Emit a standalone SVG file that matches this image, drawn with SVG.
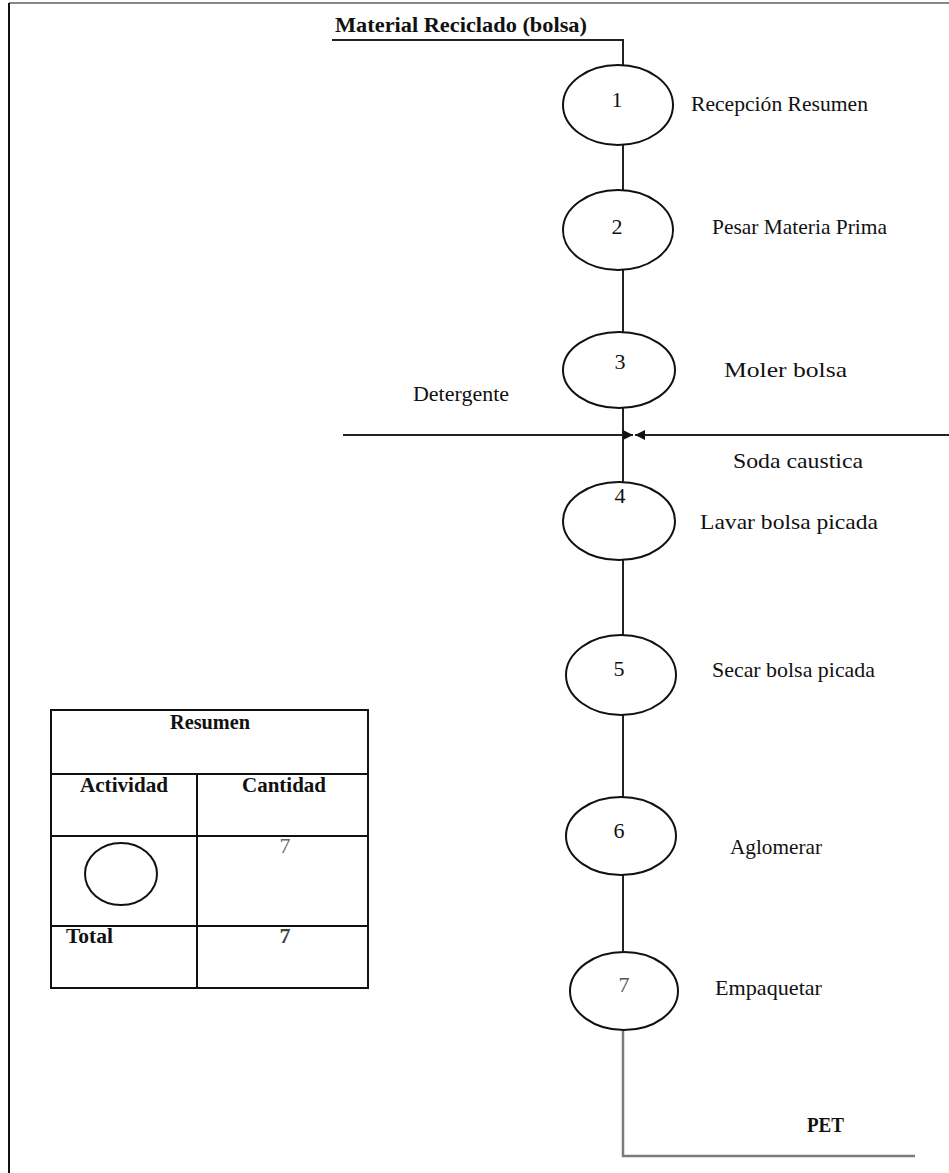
<svg xmlns="http://www.w3.org/2000/svg" width="949" height="1173" viewBox="0 0 949 1173">
<style>
text{font-family:"Liberation Serif","Times New Roman",serif;font-size:22px;fill:#111}
.b{font-weight:bold}
.num{text-anchor:middle;font-size:22px}
.op{fill:#fff;stroke:#111;stroke-width:2}
.ln{stroke:#222;stroke-width:2;fill:none}
.cell{fill:none;stroke:#111;stroke-width:2}
</style>
<defs>
<marker id="arr" viewBox="0 0 10 10" refX="10" refY="5" markerWidth="11" markerHeight="10" markerUnits="userSpaceOnUse" orient="auto">
<path d="M0,0 L10,5 L0,10 Z" fill="#111"/>
</marker>
</defs>
<rect width="949" height="1173" fill="#fff"/>
<g id="frame">
<line x1="9" y1="3" x2="949" y2="3" stroke="#888" stroke-width="2"/>
<line x1="9" y1="3" x2="9" y2="1173" stroke="#111" stroke-width="2"/>
</g>
<g id="connectors">
<polyline class="ln" points="332,40 623,40 623,1040"/>
<polyline points="623,1030 623,1156 915,1156" fill="none" stroke="#7a7a7a" stroke-width="2.5"/>
<line class="ln" x1="343" y1="435" x2="633" y2="435" marker-end="url(#arr)"/>
<line class="ln" x1="949" y1="435" x2="635" y2="435" marker-end="url(#arr)"/>
</g>
<g id="input-label"><text class="b" x="335" y="32" textLength="252" lengthAdjust="spacingAndGlyphs">Material Reciclado (bolsa)</text></g>
<g id="op1"><ellipse class="op" cx="618" cy="105" rx="55" ry="40"/><text class="num" x="617" y="107">1</text><text x="691" y="111" textLength="177" lengthAdjust="spacingAndGlyphs">Recepción Resumen</text></g>
<g id="op2"><ellipse class="op" cx="618" cy="230" rx="55" ry="40"/><text class="num" x="617" y="234">2</text><text x="712" y="234" textLength="175" lengthAdjust="spacingAndGlyphs">Pesar Materia Prima</text></g>
<g id="op3"><ellipse class="op" cx="619" cy="370" rx="56" ry="38"/><text class="num" x="620" y="369">3</text><text x="724" y="377" textLength="123" lengthAdjust="spacingAndGlyphs">Moler bolsa</text></g>
<g id="detergente"><text x="413" y="401" textLength="96" lengthAdjust="spacingAndGlyphs">Detergente</text></g>
<g id="soda"><text x="733" y="468" textLength="130" lengthAdjust="spacingAndGlyphs">Soda caustica</text></g>
<g id="op4"><ellipse class="op" cx="619" cy="521" rx="56" ry="39"/><text class="num" x="620" y="503">4</text><text x="700" y="529" textLength="178" lengthAdjust="spacingAndGlyphs">Lavar bolsa picada</text></g>
<g id="op5"><ellipse class="op" cx="621" cy="675" rx="55" ry="40"/><text class="num" x="619" y="676">5</text><text x="712" y="677" textLength="163" lengthAdjust="spacingAndGlyphs">Secar bolsa picada</text></g>
<g id="op6"><ellipse class="op" cx="621" cy="836" rx="55" ry="39"/><text class="num" x="619" y="838">6</text><text x="730" y="854" textLength="92" lengthAdjust="spacingAndGlyphs">Aglomerar</text></g>
<g id="op7"><ellipse class="op" cx="624" cy="991" rx="54" ry="39"/><text class="num" x="624" y="992" style="fill:#555">7</text><text x="715" y="995" textLength="107" lengthAdjust="spacingAndGlyphs">Empaquetar</text></g>
<g id="output-label"><text class="b" x="807" y="1132" textLength="37" lengthAdjust="spacingAndGlyphs">PET</text></g>
<g id="resumen-table">
<rect class="cell" x="51" y="710" width="317" height="278"/>
<line class="cell" x1="51" y1="774" x2="368" y2="774"/>
<line class="cell" x1="51" y1="836" x2="368" y2="836"/>
<line class="cell" x1="51" y1="926" x2="368" y2="926"/>
<line class="cell" x1="197" y1="774" x2="197" y2="988"/>
<text class="b" x="210" y="729" text-anchor="middle" textLength="80" lengthAdjust="spacingAndGlyphs">Resumen</text>
<text class="b" x="80" y="792" textLength="88" lengthAdjust="spacingAndGlyphs">Actividad</text>
<text class="b" x="242" y="792" textLength="84" lengthAdjust="spacingAndGlyphs">Cantidad</text>
<ellipse class="op" cx="121" cy="874" rx="36" ry="31"/>
<text x="285" y="853" text-anchor="middle" style="fill:#666">7</text>
<text class="b" x="66" y="943" textLength="47" lengthAdjust="spacingAndGlyphs">Total</text>
<text class="b" x="285" y="943" text-anchor="middle" style="fill:#444">7</text>
</g>
</svg>
